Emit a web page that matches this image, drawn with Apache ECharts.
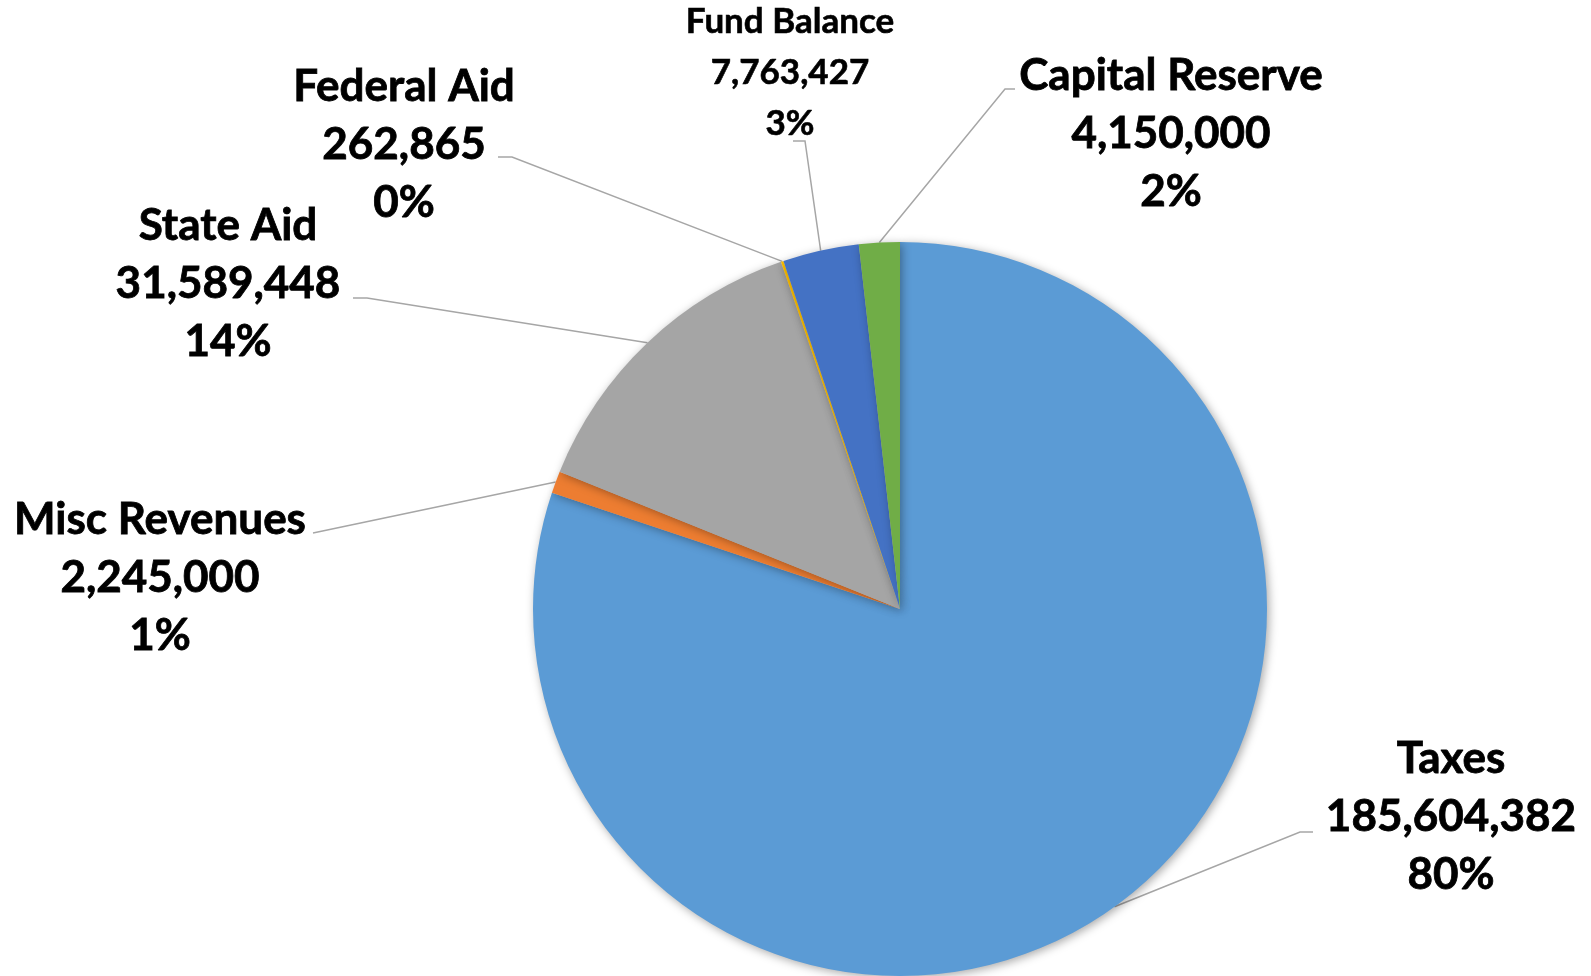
<!DOCTYPE html>
<html>
<head>
    <meta charset="utf-8">
    <title>Revenues</title>
    <script src="https://cdn.jsdelivr.net/npm/echarts@6/dist/echarts.min.js"></script>
    <style>
        html, body { margin: 0; padding: 0; background: #fff; }
        #chart_div { width: 1591px; height: 976px; }
    </style>
</head>
<body>
    <div id="chart_div"></div>
</body>

<script>

// slices, clockwise from 12 o'clock
var names = ['Taxes', 'Misc Revenues', 'State Aid', 'Federal Aid', 'Fund Balance', 'Capital Reserve'];
var values = [185604382, 2245000, 31589448, 262865, 7763427, 4150000];
var colors = ['#5B9BD5', '#ED7D31', '#A5A5A5', '#FFC000', '#4472C4', '#70AD47'];

// where each label block sits (center of middle line) and where its leader line bends
var labelPos = [[1451, 817], [160, 578], [228, 284], [404, 145], [790, 73], [1171, 134]];
var elbows = [
    [[1300, 832], [1313, 832]],
    [[313, 533]],
    [[367, 298], [353, 298]],
    [[512, 157], [498, 157]],
    [[805, 141], [793, 141]],
    [[1005, 89], [1015, 89]]
];

var mydata = [];
for (var i = 0; i < names.length; i++) {
    var d = { name: names[i], value: values[i], itemStyle: { color: colors[i] } };
    if (names[i] == 'Fund Balance') {
        d.label = { fontSize: 35, lineHeight: 51, textBorderWidth: 0.6 };
    }
    mydata.push(d);
}

var myChart = echarts.init(document.getElementById('chart_div'));
var option = {
    animation: false,
    series: [
        {
            type: 'pie',
            center: [900, 609],
            radius: 367,
            startAngle: 90,
            clockwise: true,
            itemStyle: {
                borderWidth: 0,
                shadowBlur: 10,
                shadowColor: 'rgba(0,0,0,0.35)',
                shadowOffsetX: 2,
                shadowOffsetY: 2
            },
            label: {
                show: true,
                position: 'outside',
                fontFamily: 'Lato',
                fontWeight: 'bold',
                fontSize: 44,
                lineHeight: 58,
                color: '#000',
                textBorderColor: '#000',
                textBorderWidth: 0.8,
                align: 'center',
                formatter: function (p) {
                    return p.name + '\n' + p.value.toLocaleString('en-US') + '\n' + p.percent + '%';
                }
            },
            percentPrecision: 0,
            labelLine: {
                show: true,
                lineStyle: { color: '#A6A6A6', width: 1.5 }
            },
            labelLayout: function (params) {
                var k = params.dataIndex;
                var pts = params.labelLinePoints;
                var line = [pts ? pts[0] : labelPos[k]];
                for (var j = 0; j < elbows[k].length; j++) {
                    line.push(elbows[k][j]);
                }
                return {
                    x: labelPos[k][0],
                    y: labelPos[k][1],
                    align: 'center',
                    verticalAlign: 'middle',
                    labelLinePoints: line
                };
            },
            emphasis: { disabled: true },
            data: mydata
        }
    ]
};
myChart.setOption(option);

</script>
</html>
